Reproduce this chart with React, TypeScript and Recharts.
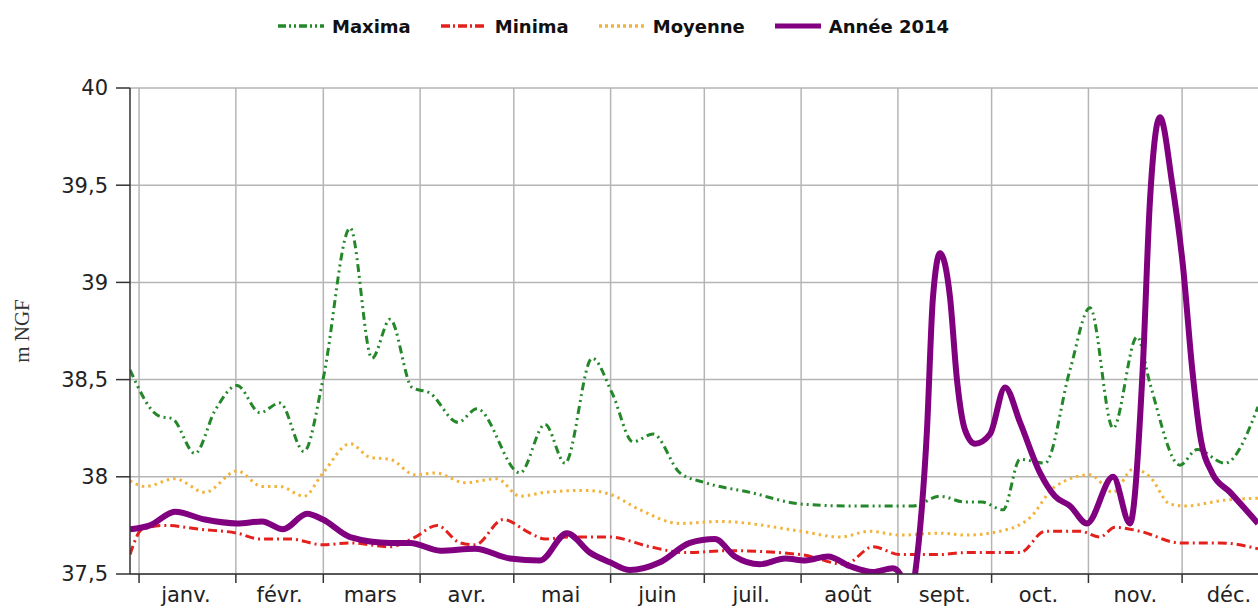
import React from 'react';
import { LineChart, Line, XAxis, YAxis, CartesianGrid, Legend, Label, ReferenceLine } from 'recharts';

// Month labels and positions (day of year)
const months = ['janv.', 'févr.', 'mars', 'avr.', 'mai', 'juin', 'juil.', 'août', 'sept.', 'oct.', 'nov.', 'déc.'];
const monthStarts = [0, 31, 59, 90, 120, 151, 181, 212, 243, 273, 304, 334];
const monthMids = [15, 45, 74, 105, 135, 166, 196, 227, 258, 288, 319, 349];
const yTicks = [37.5, 38, 38.5, 39, 39.5, 40];

// [day of year, level in m NGF]
const maxima: [number, number][] = [
  [-2.9, 38.55], [6.7, 38.31], [10.6, 38.3], [17.9, 38.12], [24.3, 38.34], [31.4, 38.47],
  [38.7, 38.33], [45.1, 38.38], [52.8, 38.13], [58.9, 38.5], [67.6, 39.28], [74.6, 38.61],
  [80.4, 38.81], [87.4, 38.46], [93.2, 38.43], [102.1, 38.28], [108.2, 38.35], [122, 38.02],
  [130, 38.27], [136.4, 38.07], [145.1, 38.61], [151.5, 38.43], [158.2, 38.18], [164.6, 38.22],
  [173.2, 38.02], [181.2, 37.97], [195.6, 37.92], [212, 37.86], [227.7, 37.85], [243.7, 37.85],
  [247.8, 37.85], [256.5, 37.9], [264.5, 37.87], [269.9, 37.87], [276.7, 37.83], [282.1, 38.09],
  [290.1, 38.07], [298.1, 38.55], [304.5, 38.87], [311.9, 38.25], [319.6, 38.72], [323.7, 38.48],
  [333.3, 38.06], [338.8, 38.14], [347.7, 38.07], [358.3, 38.36],
];

const minima: [number, number][] = [
  [-2.9, 37.6], [1, 37.73], [8.3, 37.75], [19.5, 37.73], [31.4, 37.71], [38.7, 37.68],
  [48.4, 37.68], [58.9, 37.65], [67.6, 37.66], [80.4, 37.64], [88.4, 37.69], [95.4, 37.75],
  [102.8, 37.66], [107.6, 37.65], [116.6, 37.78], [125.2, 37.71], [130, 37.68], [138, 37.69],
  [150.8, 37.69], [163.6, 37.64], [174.8, 37.61], [189.2, 37.62], [211.7, 37.6], [226.1, 37.55],
  [235, 37.64], [243.7, 37.6], [256.5, 37.6], [264.5, 37.61], [275.7, 37.61], [282.1, 37.61],
  [290.1, 37.72], [301.3, 37.72], [307.7, 37.69], [312.5, 37.74], [320.5, 37.72], [333.3, 37.66],
  [346.1, 37.66], [358.3, 37.63],
];

const moyenne: [number, number][] = [
  [-2.9, 37.98], [1.9, 37.95], [11.5, 37.99], [21.1, 37.92], [31.4, 38.03], [39.4, 37.95],
  [45.1, 37.95], [52.8, 37.9], [58.9, 38.02], [67.6, 38.17], [74, 38.1], [80.4, 38.09],
  [88.4, 38.01], [94.8, 38.02], [104.4, 37.97], [114.6, 37.99], [122, 37.9], [130, 37.92],
  [142.8, 37.93], [150.8, 37.91], [160.4, 37.83], [173.2, 37.76], [186, 37.77], [212, 37.72],
  [224.5, 37.69], [234.1, 37.72], [243.7, 37.7], [256.5, 37.71], [264.5, 37.7], [275.7, 37.72],
  [285.3, 37.79], [293.3, 37.95], [304.5, 38.01], [311.9, 37.92], [318.3, 38.04], [323.7, 38.0],
  [330.1, 37.86], [334.9, 37.85], [347.7, 37.88], [358.3, 37.89],
];

const annee2014: [number, number][] = [
  [-2.9, 37.73], [3.5, 37.75], [11.5, 37.82], [21.1, 37.78], [31.4, 37.76], [39.4, 37.77],
  [46.1, 37.73], [53.8, 37.81], [58.9, 37.78], [67.6, 37.69], [80.4, 37.66], [86.8, 37.66],
  [96.4, 37.62], [107.6, 37.63], [118.8, 37.58], [128.4, 37.57], [137, 37.71], [144.4, 37.61],
  [150.8, 37.56], [157.2, 37.52], [166.8, 37.56], [176.4, 37.66], [184.4, 37.68], [190.8, 37.59],
  [198.8, 37.55], [206.9, 37.58], [213.3, 37.57], [220.6, 37.59], [227.7, 37.54], [235, 37.51],
  [241.4, 37.53], [243.7, 37.5], [246, 37.3], [248.5, 37.5], [252.3, 38.24], [254.2, 38.92],
  [256.5, 39.15], [259.7, 38.92], [261.9, 38.5], [264.5, 38.24], [267.7, 38.17], [272.5, 38.22],
  [277.3, 38.46], [282.1, 38.28], [288.5, 38.02], [293.3, 37.9], [298.1, 37.85], [303.5, 37.76],
  [311.9, 38.0], [317.3, 37.76], [321.4, 38.56], [323.7, 39.42], [326.9, 39.85], [330.8, 39.51],
  [334.3, 39.08], [337.2, 38.56], [339.7, 38.22], [343.6, 38.02], [349.4, 37.92], [358.3, 37.76],
];

const toRows = (pairs: [number, number][]) => pairs.map(([day, v]) => ({ day, v }));

const seriesDefs = [
  { name: 'Maxima', data: maxima, color: '#24882a', width: 3, dash: '8 4 2 4 2 4', legendDash: '8 3 2 3 2 3' },
  { name: 'Minima', data: minima, color: '#e3201b', width: 3, dash: '9 4 2 4', legendDash: '9 3 2 3' },
  { name: 'Moyenne', data: moyenne, color: '#f2b33a', width: 3, dash: '2.5 4', legendDash: '3 3' },
  { name: 'Année 2014', data: annee2014, color: '#800080', width: 6, dash: undefined, legendDash: undefined },
];

const allXTicks = [...monthStarts, ...monthMids].sort((a, b) => a - b);

const MonthTick = (props: any) => {
  const { x, y, payload } = props;
  const v = payload.value;
  const si = monthStarts.indexOf(v);
  if (si >= 0) {
    return <line x1={x} x2={x} y1={y} y2={y + 9} stroke="#333" strokeWidth={1.5} />;
  }
  const mi = monthMids.indexOf(v);
  return (
    <text x={x} y={y + 13} dy="0.71em" textAnchor="middle" fontSize={21} fill="#222" fontFamily="DejaVu Sans, sans-serif">
      {mi >= 0 ? months[mi] : ''}
    </text>
  );
};

const LegendContent = () => (
  <div style={{ display: 'flex', alignItems: 'center', paddingLeft: 278, height: 24, fontFamily: 'DejaVu Sans, sans-serif', fontWeight: 'bold', fontSize: 18, color: '#111' }}>
    {seriesDefs.map((s) => (
      <div key={s.name} style={{ display: 'flex', alignItems: 'center', marginRight: 30 }}>
        <svg width={46} height={10} style={{ marginRight: 8 }}>
          <line x1={0} x2={46} y1={5} y2={5} stroke={s.color} strokeWidth={s.name === 'Année 2014' ? 5 : 3.5} strokeDasharray={s.legendDash} />
        </svg>
        <span>{s.name}</span>
      </div>
    ))}
  </div>
);

const YLabel = (props: any) => {
  const vb = props.viewBox || {};
  const cx = (vb.x || 0) + 22;
  const cy = (vb.y || 0) + (vb.height || 0) / 2;
  return (
    <text x={cx} y={cy} transform={`rotate(-90, ${cx}, ${cy})`} textAnchor="middle" dominantBaseline="central" fontSize={21} fill="#333" fontFamily="Liberation Serif, serif">
      m NGF
    </text>
  );
};

export default function App() {
  return (
    <div style={{ position: 'absolute', left: 0, top: 0, width: 1258, height: 608, overflow: 'hidden', background: '#fff' }}>
      <LineChart width={1258} height={608} margin={{ top: 88, right: 0, bottom: 0, left: 0 }}>
        <CartesianGrid stroke="#b5b5b5" strokeWidth={1.5} vertical={false} />
        {monthStarts.map((d) => (
          <ReferenceLine key={d} x={d} stroke="#b5b5b5" strokeWidth={1.5} />
        ))}
        <XAxis
          dataKey="day"
          type="number"
          domain={[-2.9, 358.3]}
          ticks={allXTicks}
          interval={0}
          allowDataOverflow
          height={34}
          tickSize={0}
          tickMargin={0}
          tickLine={false}
          axisLine={{ stroke: '#333', strokeWidth: 1.5 }}
          tick={<MonthTick />}
        />
        <YAxis
          type="number"
          domain={[37.5, 40]}
          ticks={yTicks}
          interval={0}
          allowDataOverflow
          width={130}
          tickSize={14}
          tickMargin={8}
          axisLine={{ stroke: '#333', strokeWidth: 1.5 }}
          tickLine={{ stroke: '#333', strokeWidth: 1.5 }}
          tick={{ fontSize: 21, fill: '#222', fontFamily: 'DejaVu Sans, sans-serif' }}
          tickFormatter={(v: number) => String(v).replace('.', ',')}
        >
          <Label content={<YLabel />} />
        </YAxis>
        <Legend
          verticalAlign="middle"
          align="center"
          layout="horizontal"
          wrapperStyle={{ top: 14, left: 0, width: 1258 }}
          content={<LegendContent />}
        />
        {seriesDefs.map((s) => (
          <Line
            key={s.name}
            name={s.name}
            data={toRows(s.data)}
            dataKey="v"
            type="monotone"
            stroke={s.color}
            strokeWidth={s.width}
            strokeDasharray={s.dash}
            dot={false}
            activeDot={false}
            isAnimationActive={false}
          />
        ))}
      </LineChart>
    </div>
  );
}
